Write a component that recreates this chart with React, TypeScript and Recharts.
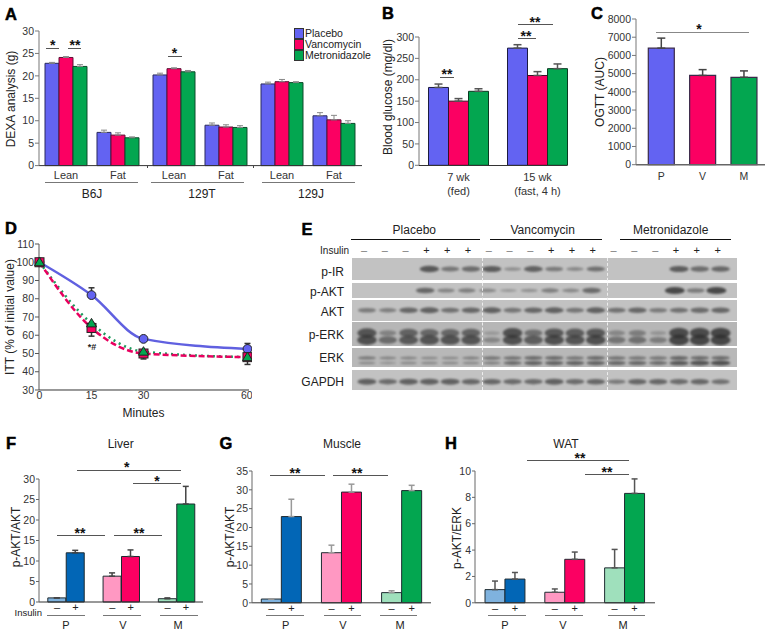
import type { ReactNode } from 'react';
import {
  BarChart,
  Bar,
  Cell,
  ErrorBar,
  LineChart,
  Line,
  ScatterChart,
  Scatter,
  XAxis,
  YAxis,
} from 'recharts';

const FONT = '"Liberation Sans", Arial, sans-serif';
const BLUE = '#6363f2';
const RED = '#fb0062';
const GREEN = '#03a650';
const TICK = { fontSize: 10.5, fill: '#333' };

// panel A
const dexaCategories = ['Lean', 'Fat'];
const dexaPlacebo = [22.8, 7.4, 20.2, 9.0, 18.2, 11.1];
const dexaVanco = [24.1, 6.8, 21.6, 8.6, 18.7, 10.2];
const dexaMetro = [22.1, 6.2, 20.9, 8.5, 18.5, 9.4];
const dexaPlaceboErr = [0.2, 0.5, 0.4, 0.5, 0.4, 0.7];
const dexaVancoErr = [0.2, 0.5, 0.2, 0.5, 0.5, 1.0];
const dexaMetroErr = [0.4, 0.2, 0.3, 0.4, 0.2, 0.6];
const dexaTicks = [0, 5, 10, 15, 20, 25, 30];

// panel B
const glucoseGroups = ['7 wk\n(fed)', '15 wk\n(fast, 4 h)'];
const glucosePlacebo = [182, 274];
const glucoseVanco = [150, 210];
const glucoseMetro = [173, 226];
const glucosePlaceboErr = [8, 8];
const glucoseVancoErr = [6, 9];
const glucoseMetroErr = [6, 11];
const glucoseTicks = [0, 50, 100, 150, 200, 250, 300];

// panel C
const ogttGroups = ['P', 'V', 'M'];
const ogttValues = [6400, 4900, 4800];
const ogttErr = [550, 320, 350];
const ogttColors = [BLUE, RED, GREEN];
const ogttTicks = [0, 1000, 2000, 3000, 4000, 5000, 6000, 7000, 8000];

// panel D
const ittMinutes = [0, 15, 30, 60];
const ittPlacebo = [100, 82, 58, 52.5];
const ittVanco = [100, 64, 50, 48];
const ittMetro = [100, 66.5, 51, 48];
const ittPlaceboErr = [0, 4, 0, 3];
const ittVancoErr = [0, 4.5, 3, 0];
const ittMetroErr = [0, 0, 0, 4];
const ittTicks = [30, 40, 50, 60, 70, 80, 90, 100, 110];

// panel E, band strength per lane
const blotGroups = ['Placebo', 'Vancomycin', 'Metronidazole'];
const insulinSigns = ['–', '–', '–', '+', '+', '+', '–', '–', '–', '+', '+', '+', '–', '–', '–', '+', '+', '+'];
const blotPIR = [0, 0, 0, 0.85, 0.55, 0.65, 0.8, 0.3, 0.75, 0.5, 0.35, 0.6, 0, 0, 0, 0.8, 0.65, 0.7];
const blotPAKT = [0, 0, 0, 0.7, 0.4, 0.45, 0.35, 0.2, 0.25, 0.45, 0.35, 0.65, 0, 0, 0, 1, 0.5, 1];
const blotAKT = [0.5, 0.45, 0.7, 0.75, 0.6, 0.7, 0.75, 0.55, 0.7, 0.75, 0.55, 0.75, 0.6, 0.7, 0.5, 0.6, 0.65, 0.7];
const blotPERKUpper = [0.85, 0.35, 0.7, 0.65, 0.65, 0.7, 0.1, 0.9, 0.55, 0.8, 0.75, 0.8, 0.3, 0.4, 0.15, 0.95, 0.95, 1];
const blotPERKLower = [0.9, 0.6, 0.8, 0.85, 0.85, 0.85, 0.3, 0.9, 0.75, 0.9, 0.85, 0.9, 0.5, 0.55, 0.4, 1, 1, 1];
const blotERKUpper = [0.45, 0.35, 0.35, 0.3, 0.3, 0.4, 0.5, 0.55, 0.6, 0.6, 0.5, 0.6, 0.55, 0.5, 0.5, 0.65, 0.6, 0.6];
const blotERKLower = [0.3, 0.2, 0.3, 0.3, 0.3, 0.3, 0.4, 0.6, 0.7, 0.7, 0.7, 0.7, 0.65, 0.65, 0.6, 0.8, 0.85, 0.9];
const blotGAPDH = [0.75, 0.65, 0.75, 0.75, 0.75, 0.7, 0.7, 0.65, 0.65, 0.75, 0.65, 0.7, 0.5, 0.7, 0.7, 0.65, 0.7, 0.6];

// panels F, G, H, an empty slot between pairs
const pairSigns = ['–', '+', '', '–', '+', '', '–', '+'];
const pairColors = ['#7fb2de', '#0266b6', '', '#ff98c2', RED, '', '#9fe0bc', GREEN];
const liverValues = [1, 12, null, 6.3, 11.1, null, 0.8, 23.9];
const liverErr = [0, 0.6, null, 0.8, 1.6, null, 0.2, 4.3];
const liverTicks = [0, 5, 10, 15, 20, 25, 30];
const muscleValues = [1, 22.9, null, 13.3, 29.4, null, 2.7, 29.8];
const muscleErr = [0, 4.6, null, 2, 2.1, null, 0.5, 1.4];
const muscleTicks = [0, 5, 10, 15, 20, 25, 30, 35];
const watValues = [1, 1.8, null, 0.8, 3.3, null, 2.65, 8.3];
const watErr = [0.65, 0.5, null, 0.25, 0.55, null, 1.4, 1.1];
const watTicks = [0, 2, 4, 6, 8, 10];

function Txt({ x, y, children, size = 11, anchor = 'middle', rotate = false, bold = false, color = '#222' }: {
  x: number; y: number; children: ReactNode; size?: number; anchor?: 'start' | 'middle' | 'end'; rotate?: boolean; bold?: boolean; color?: string;
}) {
  const shift = anchor === 'middle' ? '-50%' : anchor === 'end' ? '-100%' : '0';
  return (
    <div
      style={{
        position: 'absolute',
        left: x,
        top: y,
        fontSize: size,
        fontWeight: bold ? 700 : 400,
        color,
        lineHeight: 1,
        whiteSpace: 'nowrap',
        transform: `translate(${shift}, -50%)${rotate ? ' rotate(-90deg)' : ''}`,
      }}
    >
      {children}
    </div>
  );
}

function Rule({ x1, x2, y, color = '#555', h = 1 }: { x1: number; x2: number; y: number; color?: string; h?: number }) {
  return <div style={{ position: 'absolute', left: x1, top: y, width: x2 - x1, height: h, background: color }} />;
}

function Letter({ x, y, children }: { x: number; y: number; children: string }) {
  return (
    <div style={{ WebkitTextStroke: '0.5px #000' }}>
      <Txt x={x} y={y} size={16.5} bold color="#000">{children}</Txt>
    </div>
  );
}

function Stars({ x, y, children }: { x: number; y: number; children: string }) {
  return <Txt x={x} y={y + 3} size={14} bold color="#111">{children}</Txt>;
}

function Pane({ x, y, children }: { x: number; y: number; children: ReactNode }) {
  return <div style={{ position: 'absolute', left: x, top: y }}>{children}</div>;
}

function dexaRows(start: number) {
  return dexaCategories.map((cat, i) => ({
    cat,
    placebo: dexaPlacebo[start + i],
    vanco: dexaVanco[start + i],
    metro: dexaMetro[start + i],
    placeboErr: [0, dexaPlaceboErr[start + i]],
    vancoErr: [0, dexaVancoErr[start + i]],
    metroErr: [0, dexaMetroErr[start + i]],
  }));
}

function dexaBars() {
  return [
    ['placebo', BLUE, '#2a2a5e'],
    ['vanco', RED, '#5c1034'],
    ['metro', GREEN, '#0d4a2b'],
  ].map(([key, fill, stroke]) => (
    <Bar key={key} dataKey={key} fill={fill} stroke={stroke} isAnimationActive={false}>
      <ErrorBar dataKey={`${key}Err`} width={3} stroke="#888" strokeWidth={1} direction="y" />
    </Bar>
  ));
}

function DexaPanel() {
  const strain = (start: number, width: number, padLeft: number, padRight: number, withAxis: boolean) => (
    <BarChart
      width={width}
      height={164.6}
      data={dexaRows(start)}
      margin={{ top: 10, right: 0, bottom: 0, left: 0 }}
      barCategoryGap={5}
      barGap={0}
    >
      <XAxis dataKey="cat" height={20} interval={0} tick={{ fontSize: 11, fill: '#333' }} tickLine={false} stroke="#333" padding={{ left: padLeft, right: padRight }} tickMargin={0} />
      <YAxis
        hide={!withAxis}
        width={39}
        domain={[0, 30]}
        ticks={dexaTicks}
        tick={TICK}
        tickSize={4}
        tickMargin={1}
        stroke="#777"
        interval={0}
      />
      {dexaBars()}
    </BarChart>
  );
  return (
    <>
      <Pane x={0} y={20.7}>{strain(0, 144, 1, 0, true)}</Pane>
      <Pane x={144} y={20.7}>{strain(2, 108, 4, 0, false)}</Pane>
      <Pane x={252} y={20.7}>{strain(4, 110, 4, 2, false)}</Pane>
      <Letter x={11} y={14}>A</Letter>
      <Txt x={11} y={98.5} size={12} rotate>DEXA analysis (g)</Txt>
      <Rule x1={46} x2={59} y={47.5} />
      <Stars x={52.7} y={42}>*</Stars>
      <Rule x1={68} x2={81} y={47.5} />
      <Stars x={75} y={42}>**</Stars>
      <Rule x1={168} x2={182} y={55.5} />
      <Stars x={174.5} y={50}>*</Stars>
      <Rule x1={147} x2={148} y={165.5} h={2} color="#444" />
      <Rule x1={253} x2={254} y={165.5} h={2} color="#444" />
      <Rule x1={45} x2={138} y={182} color="#777" />
      <Rule x1={151} x2={244} y={182} color="#777" />
      <Rule x1={262} x2={355} y={182} color="#777" />
      <Txt x={92} y={194} size={12}>B6J</Txt>
      <Txt x={202} y={194} size={12}>129T</Txt>
      <Txt x={311} y={194} size={12}>129J</Txt>
      {['Placebo', 'Vancomycin', 'Metronidazole'].map((name, i) => (
        <div key={name}>
          <div
            style={{
              position: 'absolute',
              left: 294,
              top: 28 + i * 11,
              width: 8,
              height: 8.5,
              background: [BLUE, RED, GREEN][i],
              border: '0.75px solid #333',
            }}
          />
          <Txt x={305} y={33 + i * 11} size={10.5} anchor="start">{name}</Txt>
        </div>
      ))}
    </>
  );
}

function TwoLineTick({ x, y, payload }: any) {
  const lines = String(payload.value).split('\n');
  return (
    <g>
      {lines.map((line, i) => (
        <text key={line} x={x} y={y + 8 + i * 13.5} textAnchor="middle" fontSize={11} fill="#333">{line}</text>
      ))}
    </g>
  );
}

function GlucosePanel() {
  const rows = glucoseGroups.map((group, i) => ({
    group,
    placebo: glucosePlacebo[i],
    vanco: glucoseVanco[i],
    metro: glucoseMetro[i],
    placeboErr: [0, glucosePlaceboErr[i]],
    vancoErr: [0, glucoseVancoErr[i]],
    metroErr: [0, glucoseMetroErr[i]],
  }));
  return (
    <>
      <Pane x={379} y={26.7}>
        <BarChart width={198} height={175} data={rows} margin={{ top: 10, right: 0, bottom: 0, left: 0 }} barCategoryGap={9.5} barGap={0}>
          <XAxis dataKey="group" height={36.7} interval={0} tick={<TwoLineTick />} tickLine={false} axisLine={false} />
          <YAxis width={40} domain={[0, 300]} ticks={glucoseTicks} tick={TICK} tickSize={4} tickMargin={1} stroke="#777" interval={0} />
          <Bar dataKey="placebo" fill={BLUE} stroke="#1c1c40" isAnimationActive={false}>
            <ErrorBar dataKey="placeboErr" width={4} stroke="#555" direction="y" />
          </Bar>
          <Bar dataKey="vanco" fill={RED} stroke="#3c0c24" isAnimationActive={false}>
            <ErrorBar dataKey="vancoErr" width={4} stroke="#555" direction="y" />
          </Bar>
          <Bar dataKey="metro" fill={GREEN} stroke="#0a3a22" isAnimationActive={false}>
            <ErrorBar dataKey="metroErr" width={4} stroke="#555" direction="y" />
          </Bar>
        </BarChart>
      </Pane>
      <Rule x1={419} x2={567} y={165} color="#333" />
      <Letter x={388} y={13}>B</Letter>
      <Txt x={388} y={97} size={12} rotate>Blood glucose (mg/dl)</Txt>
      <Rule x1={440} x2={454} y={76.5} />
      <Stars x={447} y={71}>**</Stars>
      <Rule x1={518} x2={536} y={38} />
      <Stars x={526} y={33}>**</Stars>
      <Rule x1={518} x2={553} y={24} />
      <Stars x={535} y={19}>**</Stars>
    </>
  );
}

function OgttPanel() {
  const rows = ogttGroups.map((group, i) => ({ group, value: ogttValues[i], err: [0, ogttErr[i]] }));
  return (
    <>
      <Pane x={596} y={9.3}>
        <BarChart width={169} height={180.4} data={rows} margin={{ top: 10, right: 0, bottom: 0, left: 0 }} barCategoryGap={7.8}>
          <XAxis dataKey="group" height={24.7} interval={0} tick={TICK} tickLine={false} stroke="#666" strokeWidth={1.5} padding={{ left: 4.5, right: 0.5 }} />
          <YAxis width={40} domain={[0, 8000]} ticks={ogttTicks} tick={TICK} tickSize={4} tickMargin={1} stroke="#777" interval={0} />
          <Bar dataKey="value" stroke="#3a2a4a" strokeWidth={1.2} isAnimationActive={false}>
            {rows.map((row, i) => <Cell key={row.group} fill={ogttColors[i]} />)}
            <ErrorBar dataKey="err" width={4} stroke="#444" direction="y" />
          </Bar>
        </BarChart>
      </Pane>
      <Letter x={597} y={13}>C</Letter>
      <Txt x={600} y={92} size={12} rotate>OGTT (AUC)</Txt>
      <Rule x1={656} x2={749} y={31.5} color="#888" />
      <Stars x={699} y={26}>*</Stars>
    </>
  );
}

function CircleDot({ cx, cy }: any) {
  return <circle key={`c${cx}`} cx={cx} cy={cy} r={4.4} fill={BLUE} stroke="#222" strokeWidth={1} />;
}

function SquareDot({ cx, cy }: any) {
  return <rect key={`s${cx}`} x={cx - 4.5} y={cy - 4.5} width={9} height={9} fill={RED} stroke="#222" strokeWidth={1} />;
}

function TriangleDot({ cx, cy }: any) {
  return <path key={`t${cx}`} d={`M${cx},${cy - 5} L${cx + 5},${cy + 3.5} L${cx - 5},${cy + 3.5} Z`} fill={GREEN} stroke="#222" strokeWidth={1} />;
}

function IttPanel() {
  const rows = ittMinutes.map((min, i) => ({
    min,
    placebo: ittPlacebo[i],
    vanco: ittVanco[i],
    metro: ittMetro[i],
    placeboErr: [0, ittPlaceboErr[i]],
    vancoErr: [ittVancoErr[i], 0],
    metroErr: [ittMetroErr[i], 0],
  }));
  return (
    <>
      <Pane x={0} y={234.3}>
        <LineChart width={252} height={177.7} data={rows} margin={{ top: 10, right: 3, bottom: 0, left: 0 }}>
          <XAxis dataKey="min" type="number" domain={[0, 60]} ticks={ittMinutes} height={21.7} tick={TICK} tickSize={0} tickMargin={2} stroke="#333" padding={{ left: 0.5, right: 1.5 }} />
          <YAxis width={39} domain={[30, 110]} ticks={ittTicks} tick={TICK} tickSize={4} tickMargin={1} stroke="#555" interval={0} />
          <Line dataKey="placebo" type="monotone" stroke="#6060e0" strokeWidth={2.5} dot={CircleDot} isAnimationActive={false}>
            <ErrorBar dataKey="placeboErr" width={3} stroke="#333" direction="y" />
          </Line>
          <Line dataKey="metro" type="monotone" stroke="#1c9a5c" strokeWidth={2.5} strokeDasharray="2 4" dot={false} isAnimationActive={false} />
          <Line dataKey="vanco" type="monotone" stroke="#e8005f" strokeWidth={2.5} strokeDasharray="6 3" dot={SquareDot} isAnimationActive={false}>
            <ErrorBar dataKey="vancoErr" width={3} stroke="#333" direction="y" />
          </Line>
          <Line dataKey="metro" type="monotone" stroke="none" dot={TriangleDot} isAnimationActive={false}>
            <ErrorBar dataKey="metroErr" width={3} stroke="#333" direction="y" />
          </Line>
        </LineChart>
      </Pane>
      <Letter x={11} y={228}>D</Letter>
      <Txt x={10} y={317} size={12} rotate>ITT (% of initial value)</Txt>
      <Txt x={143.5} y={413} size={12}>Minutes</Txt>
      <Txt x={92} y={347} size={9} bold>*#</Txt>
    </>
  );
}

function BandShape({ cx, cy, payload }: any) {
  if (!payload.strength) return <g />;
  const s = payload.strength;
  return (
    <ellipse
      cx={cx}
      cy={cy}
      rx={8 + s * 2}
      ry={payload.thickness * (1 + s * 2.6)}
      fill="#2c2c2c"
      opacity={0.15 + s * 0.65}
      style={{ filter: 'blur(1px)' }}
    />
  );
}

function BlotRow({ top, height, bands, thickness = 1, laneShift = 0, shade = '#c2c2c2' }: {
  top: number; height: number; bands: { level: number; strengths: number[] }[]; thickness?: number; laneShift?: number; shade?: string;
}) {
  return (
    <div style={{ position: 'absolute', left: 352, top, width: 385, height, background: shade, overflow: 'hidden' }}>
      <ScatterChart width={385} height={height} margin={{ top: 0, right: 0, bottom: 0, left: 0 }}>
        <XAxis dataKey="lane" type="number" domain={[-0.72, 17.79]} hide />
        <YAxis dataKey="level" type="number" domain={[-1, 1]} hide />
        {bands.map((band) => (
          <Scatter
            key={band.level}
            data={band.strengths.map((strength, lane) => ({ lane: lane + laneShift, level: band.level, strength, thickness }))}
            shape={BandShape}
            isAnimationActive={false}
          />
        ))}
      </ScatterChart>
    </div>
  );
}

function BlotPanel() {
  return (
    <>
      <Letter x={307} y={229}>E</Letter>
      {blotGroups.map((name, i) => (
        <Txt key={name} x={[414.3, 542.7, 670.7][i]} y={229.5} size={12}>{name}</Txt>
      ))}
      <Rule x1={351} x2={480} y={239} color="#111" />
      <Rule x1={490} x2={602} y={239} color="#111" />
      <Rule x1={620} x2={731} y={239} color="#111" />
      <Txt x={349} y={250.5} size={10} anchor="end">Insulin</Txt>
      {insulinSigns.map((sign, i) => (
        <Txt key={i} x={364 + i * 20.8} y={250} size={11} color={sign === '+' ? '#222' : '#777'}>{sign}</Txt>
      ))}
      <BlotRow top={258} height={22} bands={[{ level: 0, strengths: blotPIR }]} />
      <BlotRow top={283} height={15} laneShift={-0.2} bands={[{ level: 0, strengths: blotPAKT }]} />
      <BlotRow top={300} height={20.5} bands={[{ level: 0, strengths: blotAKT }]} />
      <BlotRow top={322} height={24} thickness={1.5} shade="#b6b6b6" bands={[{ level: 0.08, strengths: blotPERKUpper }, { level: -0.5, strengths: blotPERKLower }]} />
      <BlotRow top={348} height={19} thickness={0.75} shade="#b8b8b8" bands={[{ level: -0.05, strengths: blotERKUpper }, { level: -0.58, strengths: blotERKLower }]} />
      <BlotRow top={370} height={20} bands={[{ level: -0.17, strengths: blotGAPDH }]} />
      {[482, 607].map((x) => (
        <div key={x} style={{ position: 'absolute', left: x, top: 258, height: 132, borderLeft: '1px dashed #eee' }} />
      ))}
      {['p-IR', 'p-AKT', 'AKT', 'p-ERK', 'ERK', 'GAPDH'].map((name, i) => (
        <Txt key={name} x={344} y={[271.5, 291.5, 311.5, 335, 358, 381.5][i]} size={12} anchor="end">{name}</Txt>
      ))}
    </>
  );
}

function PairPanel({ axisX, right, padLeft, padRight, domainMax, ticks, values, errs, errColor }: {
  axisX: number; right: number; padLeft: number; padRight: number; domainMax: number; ticks: number[]; values: (number | null)[]; errs: (number | null)[]; errColor: string;
}) {
  const rows = pairSigns.map((sign, i) => ({
    sign,
    value: values[i],
    err: errs[i] == null ? undefined : [0, errs[i]],
  }));
  const top = domainMax === 30 ? 479.3 : 470.5;
  return (
    <Pane x={axisX - 36} y={top - 10}>
      <BarChart
        width={right - axisX + 36}
        height={602.3 - top + 10 + 14}
        data={rows}
        margin={{ top: 10, right: 0, bottom: 0, left: 0 }}
        barCategoryGap={0}
      >
        <XAxis dataKey="sign" height={14} interval={0} tick={{ fontSize: 11, fill: '#222' }} tickLine={false} tickSize={0} tickMargin={1} stroke="#333" padding={{ left: padLeft, right: padRight }} />
        <YAxis width={36} domain={[0, domainMax]} ticks={ticks} tick={TICK} tickSize={3} tickMargin={1} stroke="#666" interval={0} />
        <Bar dataKey="value" stroke="#1e2a30" strokeWidth={1} isAnimationActive={false}>
          {rows.map((row, i) => <Cell key={i} fill={pairColors[i]} />)}
          <ErrorBar dataKey="err" width={3} stroke={errColor} direction="y" />
        </Bar>
      </BarChart>
    </Pane>
  );
}

function PairLabels({ rules, labels }: { rules: [number, number][]; labels: number[] }) {
  return (
    <>
      {rules.map(([x1, x2]) => <Rule key={x1} x1={x1} x2={x2} y={615} color="#777" />)}
      {['P', 'V', 'M'].map((name, i) => <Txt key={name} x={labels[i]} y={625} size={11}>{name}</Txt>)}
    </>
  );
}

export default function App() {
  return (
    <div style={{ position: 'absolute', left: 0, top: 0, width: 765, height: 636, background: '#fff', overflow: 'hidden', fontFamily: FONT }}>
      <DexaPanel />
      <GlucosePanel />
      <OgttPanel />
      <IttPanel />
      <BlotPanel />

      <PairPanel axisX={38.5} right={203} padLeft={8.8} padRight={8.3} domainMax={30} ticks={liverTicks} values={liverValues} errs={liverErr} errColor="#444" />
      <Letter x={11} y={443}>F</Letter>
      <Txt x={120.7} y={444} size={12}>Liver</Txt>
      <Txt x={15.7} y={537} size={12} rotate>p-AKT/AKT</Txt>
      <Txt x={42} y={613} size={9.5} anchor="end">Insulin</Txt>
      <PairLabels rules={[[47, 85], [103, 141], [160, 198]]} labels={[66, 123, 178]} />
      <Rule x1={77} x2={181} y={470} />
      <Stars x={126.7} y={464}>*</Stars>
      <Rule x1={133} x2={181} y={483} />
      <Stars x={157} y={478}>*</Stars>
      <Rule x1={57} x2={105} y={535} />
      <Stars x={80} y={529.5}>**</Stars>
      <Rule x1={114} x2={162} y={535} />
      <Stars x={139} y={529.5}>**</Stars>

      <PairPanel axisX={252} right={431} padLeft={9.3} padRight={9.3} domainMax={35} ticks={muscleTicks} values={muscleValues} errs={muscleErr} errColor="#999" />
      <Letter x={226} y={443}>G</Letter>
      <Txt x={342} y={444} size={12}>Muscle</Txt>
      <Txt x={230} y={537} size={12} rotate>p-AKT/AKT</Txt>
      <PairLabels rules={[[266, 304], [324, 361], [380, 417]]} labels={[285.7, 343, 400]} />
      <Rule x1={270} x2={325} y={475} />
      <Stars x={295} y={469.5}>**</Stars>
      <Rule x1={333} x2={388} y={475} />
      <Stars x={357} y={469.5}>**</Stars>

      <PairPanel axisX={475} right={655} padLeft={10} padRight={10.5} domainMax={10} ticks={watTicks} values={watValues} errs={watErr} errColor="#555" />
      <Letter x={451} y={443}>H</Letter>
      <Txt x={566} y={444} size={12}>WAT</Txt>
      <Txt x={456.7} y={538} size={12} rotate>p-AKT/ERK</Txt>
      <PairLabels rules={[[488, 526], [545, 583], [608, 645]]} labels={[505, 563, 623]} />
      <Rule x1={527} x2={629} y={460} />
      <Stars x={580} y={454.5}>**</Stars>
      <Rule x1={585} x2={629} y={474} />
      <Stars x={607} y={468.5}>**</Stars>
    </div>
  );
}
